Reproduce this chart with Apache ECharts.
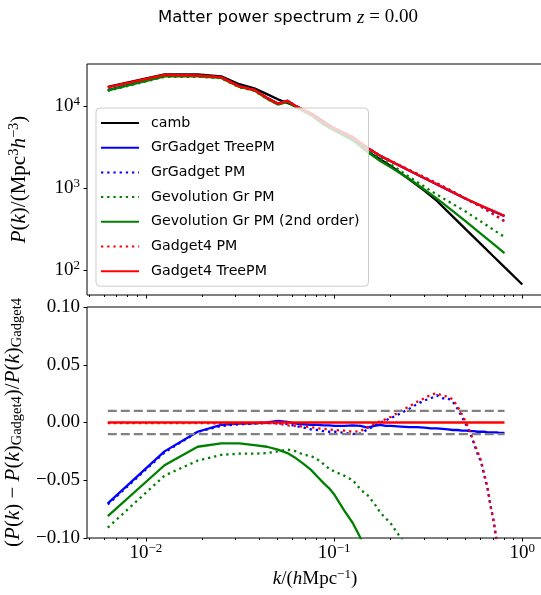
<!DOCTYPE html>
<html>
<head>
<meta charset="utf-8">
<script src="https://cdn.jsdelivr.net/npm/echarts@6/dist/echarts.min.js"></script>
<style>
html, body { margin: 0; padding: 0; background: #fff; }
#main { width: 541px; height: 595px; }
</style>
</head>
<body>
<div id="main"></div>
<script>
// wavenumbers of the power spectrum bins (h/Mpc)
var kTop = [0.00628, 0.01257, 0.01885, 0.02513, 0.03142, 0.0377, 0.044, 0.0503, 0.0565, 0.0628,
    0.0754, 0.088, 0.1005, 0.1257, 0.1508, 0.1759, 0.2011, 0.2513, 0.3016, 0.3519,
    0.4021, 0.5027, 0.6032, 0.7037, 0.8042];
var kCamb = [0.00628, 0.01257, 0.01885, 0.02513, 0.03142, 0.0377, 0.044, 0.0503, 0.0565, 0.0628,
    0.0754, 0.088, 0.1005, 0.1257, 0.1508, 0.1759, 0.2011, 0.2513, 0.3016, 0.3519,
    0.4021, 0.5027, 0.6032, 0.7037, 0.8042, 1.0];

// P(k) in (Mpc/h)^3
var pCamb = [17100, 24300, 24300, 23100, 18500, 16500, 14000, 12100, 10900, 9900,
    8200, 6500, 5300, 3900, 2800, 2250, 1850, 1276, 934, 698,
    517, 312, 208, 147, 109, 67];
var pGrTree = [15700, 23400, 23400, 22450, 17380, 15790, 12600, 10720, 11610, 9990,
    8080, 6280, 5330, 4190, 3090, 2475, 2115, 1633, 1324, 1110,
    953, 737, 611, 521, 456];
var pGrPM = [15700, 23380, 23410, 22430, 17370, 15780, 12590, 10690, 11580, 9970,
    8050, 6250, 5310, 4160, 3080, 2480, 2130, 1660, 1355, 1140,
    979, 741, 595, 481, 396];
var pGevPM = [15350, 22700, 22800, 21900, 16900, 15400, 12250, 10430, 11300, 9750,
    7860, 6070, 5120, 3990, 2900, 2290, 1940, 1370, 1045, 836,
    697, 515, 392, 310, 254];
var pGev2 = [15550, 23100, 23100, 22100, 17100, 15500, 12330, 10450, 11290, 9690,
    7760, 5970, 5020, 3830, 2750, 2140, 1780, 1293, 964, 747,
    587, 392, 278, 208, 162];
var pG4PM = [16890, 23990, 23590, 22480, 17380, 15790, 12590, 10690, 11570, 9970,
    8070, 6270, 5320, 4170, 3090, 2480, 2130, 1660, 1360, 1145,
    981, 742, 596, 481, 396];
var pG4Tree = [16900, 24000, 23600, 22500, 17400, 15800, 12600, 10700, 11600, 10000,
    8100, 6300, 5350, 4200, 3100, 2480, 2120, 1640, 1330, 1115,
    959, 742, 616, 526, 460];

// ratio panel
var kRatio = [0.00628, 0.01257, 0.01885, 0.02513, 0.03142, 0.0377, 0.044, 0.0503, 0.0565, 0.0628,
    0.0691, 0.0754, 0.0817, 0.088, 0.0942, 0.1005, 0.1131, 0.1257, 0.1382, 0.1508,
    0.1634, 0.1759, 0.1885, 0.2011, 0.2262, 0.2513, 0.2765, 0.3016, 0.3267, 0.3519,
    0.377, 0.4021, 0.4273, 0.4524, 0.4775, 0.5027, 0.5278, 0.5529, 0.578, 0.6032,
    0.6283, 0.6534, 0.6786, 0.7037, 0.7288, 0.754, 0.7791, 0.8042];
var rGrTree = [-0.070, -0.025, -0.008, -0.002, -0.001, -0.0005, 0.000, 0.0015, 0.0005, -0.001,
    -0.0015, -0.002, -0.002, -0.0025, -0.0025, -0.003, -0.003, -0.0025, -0.003, -0.0045,
    -0.003, -0.002, -0.003, -0.003, -0.0035, -0.004, -0.004, -0.0045, -0.005, -0.005,
    -0.0055, -0.006, -0.0065, -0.0065, -0.007, -0.007, -0.0075, -0.0075, -0.008, -0.008,
    -0.008, -0.0085, -0.0085, -0.0085, -0.0085, -0.009, -0.009, -0.009];
var rGrPM = [-0.071, -0.026, -0.008, -0.003, -0.0015, -0.001, -0.0005, -0.0005, -0.0015, -0.003,
    -0.0045, -0.006, -0.0065, -0.0075, -0.008, -0.008, -0.009, -0.010, -0.0095, -0.006,
    -0.003, 0.000, 0.002, 0.004, 0.008, 0.012, 0.016, 0.019, 0.021, 0.0235,
    0.021, 0.021, 0.018, 0.012, 0.005, -0.002, -0.009, -0.018, -0.027, -0.034,
    -0.046, -0.057, -0.073, -0.085, -0.102, -0.115, -0.13, -0.14];
var rGevPM = [-0.091, -0.046, -0.033, -0.028, -0.027, -0.027, -0.0265, -0.025, -0.0235, -0.025,
    -0.028, -0.029, -0.032, -0.036, -0.040, -0.0425, -0.046, -0.050, -0.058, -0.063,
    -0.070, -0.078, -0.083, -0.088, -0.100, -0.11, -0.13, -0.15, -0.17, -0.19,
    -0.21, -0.23, -0.25, -0.27, -0.29, -0.30, -0.31, -0.32, -0.34, -0.35,
    -0.36, -0.37, -0.38, -0.40, -0.41, -0.42, -0.43, -0.45];
var rGev2 = [-0.081, -0.037, -0.021, -0.018, -0.018, -0.0195, -0.021, -0.0235, -0.0265, -0.031,
    -0.036, -0.041, -0.047, -0.0525, -0.057, -0.0626, -0.076, -0.087, -0.100, -0.113,
    -0.125, -0.138, -0.15, -0.16, -0.18, -0.20, -0.22, -0.25, -0.27, -0.30,
    -0.32, -0.35, -0.37, -0.39, -0.41, -0.43, -0.45, -0.47, -0.49, -0.51,
    -0.53, -0.55, -0.56, -0.58, -0.60, -0.62, -0.64, -0.65];
var rG4PM = [-0.0005, -0.0005, -0.0005, -0.0008, -0.001, -0.0008, -0.0005, -0.001, -0.0025, -0.003,
    -0.0035, -0.004, -0.005, -0.0055, -0.006, -0.0065, -0.007, -0.008, -0.0075, -0.004,
    -0.001, 0.001, 0.003, 0.005, 0.010, 0.014, 0.018, 0.021, 0.024, 0.0255,
    0.023, 0.0225, 0.020, 0.014, 0.007, 0.000, -0.008, -0.017, -0.025, -0.033,
    -0.045, -0.056, -0.072, -0.085, -0.101, -0.115, -0.13, -0.14];
var rG4Tree = [0, 0];
var tolerance = [0.01, -0.01];

// ticks
var xMajor = [0.01, 0.1, 1];
var xMinor = [0.005, 0.006, 0.007, 0.008, 0.009, 0.02, 0.03, 0.04, 0.05, 0.06, 0.07, 0.08, 0.09,
    0.2, 0.3, 0.4, 0.5, 0.6, 0.7, 0.8, 0.9];
var yMajorTop = [100, 1000, 10000];
var yMinorTop = [50, 60, 70, 80, 90, 200, 300, 400, 500, 600, 700, 800, 900,
    2000, 3000, 4000, 5000, 6000, 7000, 8000, 9000, 20000, 30000];

var myChart = echarts.init(document.getElementById('main'), null, {renderer: 'canvas'});

var serif = 'Liberation Serif';
var sans = 'DejaVu Sans';
function mathStyles(size, small) {
    return {
        r: {fontFamily: serif, fontSize: size, color: '#000', lineHeight: size + 3},
        i: {fontFamily: serif, fontSize: size, fontStyle: 'italic', color: '#000', lineHeight: size + 3},
        e: {fontFamily: serif, fontSize: small, color: '#000', lineHeight: 9, verticalAlign: 'top'},
        s: {fontFamily: serif, fontSize: small, color: '#000', lineHeight: 9, verticalAlign: 'bottom'},
        b: {fontFamily: serif, fontSize: size, color: '#000', lineHeight: size + 3}
    };
}
var mathRich = mathStyles(19, 13);
var nameRich = mathStyles(21, 14.5);

function pairs(k, v) {
    return k.map(function (x, i) { return [x, v[i]]; });
}
function powLabel(v) {
    var e = Math.round(Math.log10(v));
    return '{b|10}{e|' + (e < 0 ? '\u2212' + (-e) : e) + '}';
}

var xMin = 0.00487, xMax = 1.288;
var grids = [
    {left: 87, top: 64, width: 456, height: 231},
    {left: 87, top: 307, width: 456, height: 231}
];
grids.forEach(function (g) {
    g.show = true;
    g.borderColor = '#000';
    g.borderWidth = 1;
    g.backgroundColor = 'transparent';
    g.containLabel = false;
    g.outerBoundsMode = 'none';
});

function logX(gridIndex, ticks, len, withLabels) {
    var ax = {
        type: 'log', logBase: 10, gridIndex: gridIndex, position: 'bottom',
        min: xMin, max: xMax,
        axisLine: {show: false, onZero: false},
        splitLine: {show: false},
        axisTick: {show: true, inside: false, length: len, customValues: ticks,
            lineStyle: {color: '#000', width: 1}},
        axisLabel: {show: false}
    };
    if (withLabels) {
        ax.axisLabel = {show: true, customValues: ticks, margin: 4, formatter: powLabel, rich: mathRich};
        ax.name = '{i|k}{r|/(}{i|h}{r|Mpc}{e|\u22121}{r|)}';
        ax.nameLocation = 'middle';
        ax.nameGap = 30;
        ax.nameTextStyle = {rich: mathRich};
    }
    return ax;
}

var option = {
    animation: false,
    backgroundColor: '#fff',
    title: {
        text: '{s|Matter power spectrum }{m|z}{n| = 0.00}',
        left: 153, top: 3,
        textStyle: {
            fontWeight: 'normal',
            rich: {
                s: {fontFamily: sans, fontSize: 16.5, fontWeight: 'normal', color: '#000'},
                m: {fontFamily: serif, fontSize: 19, fontStyle: 'italic', fontWeight: 'normal', color: '#000'},
                n: {fontFamily: serif, fontSize: 19, fontWeight: 'normal', color: '#000'}
            }
        }
    },
    legend: {
        left: 96, top: 108,
        orient: 'vertical',
        itemWidth: 38, itemHeight: 14, itemGap: 10.7,
        padding: [8, 9, 8, 4],
        backgroundColor: 'rgba(255,255,255,0.8)',
        borderColor: '#cccccc', borderWidth: 1, borderRadius: 4,
        itemStyle: {opacity: 0, borderWidth: 0},
        textStyle: {fontFamily: sans, fontSize: 14.2, color: '#000', padding: [0, 0, 0, 7]},
        data: ['camb', 'GrGadget TreePM', 'GrGadget PM', 'Gevolution Gr PM',
            'Gevolution Gr PM (2nd order)', 'Gadget4 PM', 'Gadget4 TreePM']
    },
    grid: grids,
    xAxis: [
        logX(0, xMajor, 3.5, false),
        logX(0, xMinor, 2, false),
        logX(1, xMajor, 3.5, true),
        logX(1, xMinor, 2, false)
    ],
    yAxis: [
        {
            type: 'log', logBase: 10, gridIndex: 0, min: 49.9, max: 32600,
            axisLine: {show: false}, splitLine: {show: false},
            axisTick: {show: true, length: 3.5, customValues: yMajorTop, lineStyle: {color: '#000'}},
            axisLabel: {show: true, customValues: yMajorTop, margin: 7, formatter: powLabel, rich: mathRich},
            name: '{i|P}{r|(}{i|k}{r|)/(Mpc}{e|3}{i|h}{e|\u22123}{r|)}',
            nameLocation: 'middle', nameGap: 56, nameRotate: 90,
            nameTextStyle: {rich: nameRich}
        },
        {
            type: 'log', logBase: 10, gridIndex: 0, min: 49.9, max: 32600,
            axisLine: {show: false}, splitLine: {show: false},
            axisTick: {show: true, length: 2, customValues: yMinorTop, lineStyle: {color: '#000'}},
            axisLabel: {show: false}
        },
        {
            type: 'value', gridIndex: 1, min: -0.1, max: 0.1, interval: 0.05,
            axisLine: {show: false}, splitLine: {show: false},
            axisTick: {show: true, length: 3.5, lineStyle: {color: '#000'}},
            axisLabel: {
                show: true, margin: 7, fontFamily: serif, fontSize: 19, color: '#000',
                formatter: function (v) {
                    return (v < -1e-9 ? '\u2212' : '') + Math.abs(v).toFixed(2);
                }
            },
            name: '{r|(}{i|P}{r|(}{i|k}{r|) \u2212 }{i|P}{r|(}{i|k}{r|)}{s|Gadget4}{r|)/}{i|P}{r|(}{i|k}{r|)}{s|Gadget4}',
            nameLocation: 'middle', nameGap: 59, nameRotate: 90,
            nameTextStyle: {rich: nameRich}
        }
    ],
    series: []
};

var lw = 2.3;
var dot = [2.3, 3.9];
function line(name, data, color, type, xi, yi) {
    return {
        name: name, type: 'line', data: data,
        xAxisIndex: xi, yAxisIndex: yi,
        symbol: 'none', showSymbol: false, clip: true,
        lineStyle: {color: color, width: lw, type: type, cap: 'butt'},
        itemStyle: {color: color},
        emphasis: {disabled: true}
    };
}

option.series.push(
    line('camb', pairs(kCamb, pCamb), '#000000', 'solid', 0, 0),
    line('GrGadget TreePM', pairs(kTop, pGrTree), '#0000ff', 'solid', 0, 0),
    line('GrGadget PM', pairs(kTop, pGrPM), '#0000ff', dot, 0, 0),
    line('Gevolution Gr PM', pairs(kTop, pGevPM), '#008000', dot, 0, 0),
    line('Gevolution Gr PM (2nd order)', pairs(kTop, pGev2), '#008000', 'solid', 0, 0),
    line('Gadget4 PM', pairs(kTop, pG4PM), '#ff0000', dot, 0, 0),
    line('Gadget4 TreePM', pairs(kTop, pG4Tree), '#ff0000', 'solid', 0, 0),

    line('GrGadget TreePM', pairs(kRatio, rGrTree), '#0000ff', 'solid', 2, 2),
    line('GrGadget PM', pairs(kRatio, rGrPM), '#0000ff', dot, 2, 2),
    line('Gevolution Gr PM', pairs(kRatio, rGevPM), '#008000', dot, 2, 2),
    line('Gevolution Gr PM (2nd order)', pairs(kRatio, rGev2), '#008000', 'solid', 2, 2),
    line('Gadget4 PM', pairs(kRatio, rG4PM), '#ff0000', dot, 2, 2),
    line('Gadget4 TreePM', [[kRatio[0], rG4Tree[0]], [kRatio[kRatio.length - 1], rG4Tree[1]]], '#ff0000', 'solid', 2, 2)
);
tolerance.forEach(function (t, i) {
    var s = line('tol' + i, [[kRatio[0], t], [kRatio[kRatio.length - 1], t]], '#808080', [9, 4], 2, 2);
    option.series.push(s);
});

myChart.setOption(option);
</script>
</body>
</html>
